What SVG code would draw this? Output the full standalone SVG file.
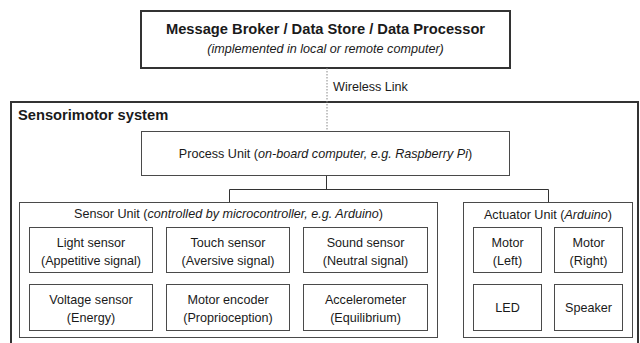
<svg xmlns="http://www.w3.org/2000/svg" width="640" height="343" viewBox="0 0 640 343">
<style>
text{font-family:"Liberation Sans",Arial,sans-serif;fill:#1a1a1a;font-size:12.6px;text-anchor:middle}
.thick{fill:#fff;stroke:#333;stroke-width:2}
.box{fill:#fff;stroke:#4a4a4a;stroke-width:1}
.title{font-weight:bold;font-size:14.7px}
.it{font-style:italic}
.conn{fill:none;stroke:#333;stroke-width:1}
</style>
<rect width="640" height="343" fill="#fff"/>
<g id="broker">
<rect class="thick" x="141" y="11" width="369" height="57"/>
<text class="title" x="325.5" y="34">Message Broker / Data Store / Data Processor</text>
<text class="it" x="325.5" y="53">(implemented in local or remote computer)</text>
</g>
<g id="system">
<rect class="thick" x="11" y="102" width="627" height="260"/>
<text style="font-weight:bold;font-size:14.7px;text-anchor:start" x="18" y="120">Sensorimotor system</text>
</g>
<g id="connectors">
<line x1="327" y1="68" x2="327" y2="131" stroke="#888" stroke-width="1" stroke-dasharray="1.5,1.5"/>
<text x="333" y="91" style="text-anchor:start">Wireless Link</text>
<path class="conn" d="M326.5 176V189.5M229.5 202V189.5H548.5V202"/>
</g>
<g id="process">
<rect class="box" x="141.5" y="131.5" width="368" height="44"/>
<text x="325.5" y="158">Process Unit (<tspan class="it">on-board computer, e.g. Raspberry Pi</tspan>)</text>
</g>
<g id="sensor-unit">
<rect class="box" x="19.5" y="202.5" width="418" height="135"/>
<text x="228.5" y="218">Sensor Unit (<tspan class="it">controlled by microcontroller, e.g. Arduino</tspan>)</text>
</g>
<g id="light"><rect class="box" x="29.5" y="227.5" width="123" height="45"/><text x="91" y="247">Light sensor</text><text x="91" y="265">(Appetitive signal)</text></g>
<g id="touch"><rect class="box" x="166.5" y="227.5" width="123" height="45"/><text x="228" y="247">Touch sensor</text><text x="228" y="265">(Aversive signal)</text></g>
<g id="sound"><rect class="box" x="303.5" y="227.5" width="124" height="45"/><text x="365.5" y="247">Sound sensor</text><text x="365.5" y="265">(Neutral signal)</text></g>
<g id="voltage"><rect class="box" x="29.5" y="284.5" width="123" height="46"/><text x="91" y="304">Voltage sensor</text><text x="91" y="322">(Energy)</text></g>
<g id="encoder"><rect class="box" x="166.5" y="284.5" width="123" height="46"/><text x="228" y="304">Motor encoder</text><text x="228" y="322">(Proprioception)</text></g>
<g id="accel"><rect class="box" x="303.5" y="284.5" width="124" height="46"/><text x="365.5" y="304">Accelerometer</text><text x="365.5" y="322">(Equilibrium)</text></g>
<g id="actuator-unit">
<rect class="box" x="463.5" y="202.5" width="169" height="135"/>
<text x="548" y="219">Actuator Unit (<tspan class="it">Arduino</tspan>)</text>
</g>
<g id="motor-left"><rect class="box" x="473.5" y="227.5" width="68" height="45"/><text x="507.5" y="247">Motor</text><text x="507.5" y="265">(Left)</text></g>
<g id="motor-right"><rect class="box" x="554.5" y="227.5" width="68" height="45"/><text x="588.5" y="247">Motor</text><text x="588.5" y="265">(Right)</text></g>
<g id="led"><rect class="box" x="473.5" y="284.5" width="68" height="46"/><text x="507.5" y="312">LED</text></g>
<g id="speaker"><rect class="box" x="554.5" y="284.5" width="68" height="46"/><text x="588.5" y="312">Speaker</text></g>
</svg>
